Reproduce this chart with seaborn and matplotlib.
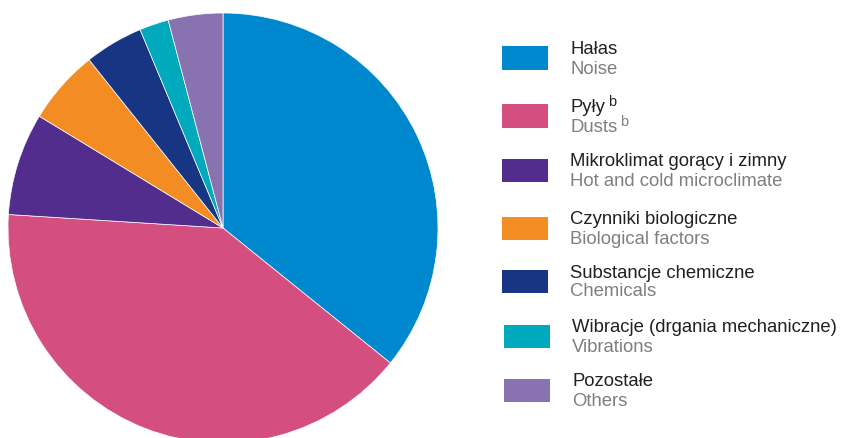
import matplotlib
matplotlib.use("Agg")
import matplotlib.pyplot as plt
import seaborn as sns
from matplotlib.patches import Rectangle

# ---- data ----
labels_pl = ["Hałas", "Pyły", "Mikroklimat gorący i zimny", "Czynniki biologiczne",
             "Substancje chemiczne", "Wibracje (drgania mechaniczne)", "Pozostałe"]
labels_en = ["Noise", "Dusts", "Hot and cold microclimate", "Biological factors",
             "Chemicals", "Vibrations", "Others"]
footnotes = ["", "b", "", "", "", "", ""]
values = [35.8, 40.2, 7.7, 5.6, 4.4, 2.2, 4.1]
colors = ["#0088CF", "#D44F80", "#522D8E", "#F48C24", "#183584", "#00A9BC", "#8972B0"]

sns.set_theme(style="white")
plt.rcParams["font.family"] = ["Liberation Sans", "DejaVu Sans"]

W, H = 841, 438
fig = plt.figure(figsize=(W / 100, H / 100), dpi=100)
fig.patch.set_facecolor("white")

# pie axes: centre (223, 228) px from top-left, radius 215 px
cx, cy, r = 223, 228, 215
ax = fig.add_axes([(cx - r) / W, (H - cy - r) / H, 2 * r / W, 2 * r / H])
ax.pie(values, colors=colors, startangle=90, counterclock=False, radius=1,
       wedgeprops=dict(edgecolor="white", linewidth=0.5))
ax.set_xlim(-1, 1)
ax.set_ylim(-1, 1)
ax.set_aspect("auto")
ax.axis("off")

# legend drawn manually in pixel coordinates
def fx(x):
    return x / W

def fy(y):
    return (H - y) / H

FS = 13.3
row_centres = [58, 116, 170, 228, 281, 336, 390]
x_shift = [0, 0, 0, 0, 0, 2, 2]
fig.canvas.draw()
renderer = fig.canvas.get_renderer()
for i, (pl, en, fn, col) in enumerate(zip(labels_pl, labels_en, footnotes, colors)):
    yc = row_centres[i]
    xs = x_shift[i]
    fig.patches.append(Rectangle((fx(502 + xs), fy(yc + 11.5)), 46 / W, 23 / H,
                                 transform=fig.transFigure, facecolor=col,
                                 edgecolor="none"))
    t1 = fig.text(fx(570 + xs), fy(yc - 3.5), pl, fontsize=FS, color="#231F20",
                  va="baseline", ha="left")
    t2 = fig.text(fx(570 + xs), fy(yc + 15.5), en, fontsize=FS, color="#7F7F7F",
                  va="baseline", ha="left")
    if fn:
        for t, c, base in ((t1, "#231F20", yc - 3.5), (t2, "#7F7F7F", yc + 15.5)):
            bb = t.get_window_extent(renderer=renderer)
            fig.text((bb.x1 + 3) / W, fy(base - 6), fn, fontsize=10.5, color=c,
                     va="baseline", ha="left")

fig.savefig("out.png", dpi=100, facecolor="white")
